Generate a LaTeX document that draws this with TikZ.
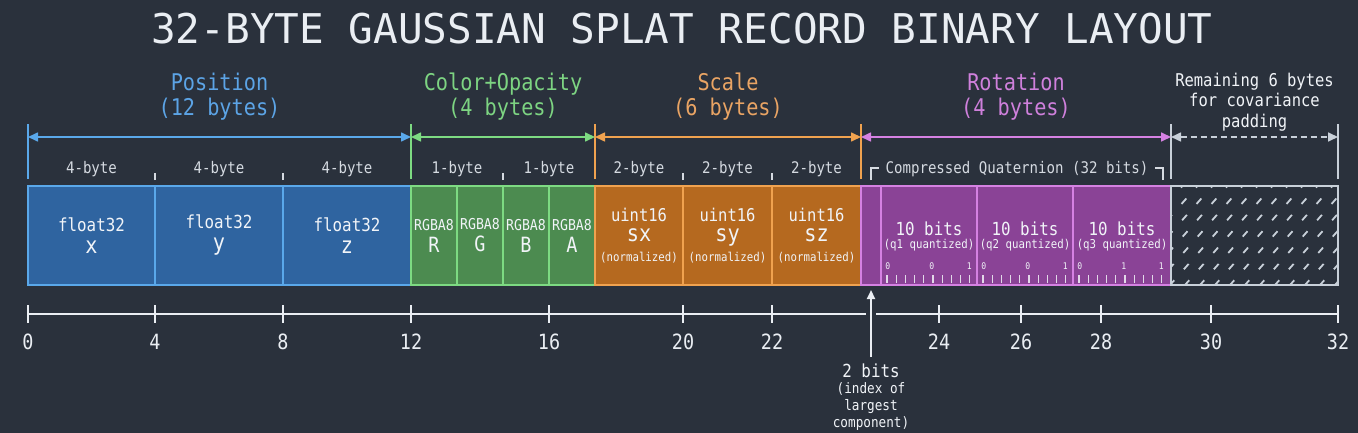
\documentclass[tikz,border=0pt]{standalone}
\usepackage{fontspec}
\usepackage{xcolor}
\usepackage{tikz}
\usetikzlibrary{positioning,arrows.meta,calc}

\newfontfamily\recmono[FakeStretch=0.88]{DejaVu Sans Mono}
\newfontfamily\titlemono{DejaVu Sans Mono}
\newcommand{\fsz}[2]{\fontsize{#1}{#2}\selectfont}

\definecolor{bgcol}{HTML}{2A313C}
\definecolor{titlecol}{HTML}{EAEEF3}
\definecolor{hdrtxt}{HTML}{D5DAE1}
\definecolor{boxtxt}{HTML}{F1F4F8}
\definecolor{poscol}{HTML}{5AA8EA}
\definecolor{posfill}{HTML}{2F64A0}
\definecolor{poslbl}{HTML}{5CA4E6}
\definecolor{colcol}{HTML}{7DDA82}
\definecolor{colfill}{HTML}{4C8B50}
\definecolor{collbl}{HTML}{7DD482}
\definecolor{sclcol}{HTML}{F0A24F}
\definecolor{sclfill}{HTML}{B5691F}
\definecolor{scllbl}{HTML}{E9A464}
\definecolor{rotcol}{HTML}{D581E2}
\definecolor{rotfill}{HTML}{8A4396}
\definecolor{rotlbl}{HTML}{CF80DC}
\definecolor{padcol}{HTML}{C8D0D9}

\begin{document}
\begin{tikzpicture}[x=0.5pt, y=-0.5pt, font=\recmono,
	field/.style={draw, line width=1pt, minimum height=49.5pt, inner sep=0pt, outer sep=0pt, align=center, text=boxtxt},
	posbox/.style={field, fill=posfill, draw=poscol, font=\recmono\fsz{9}{11}},
	colbox/.style={field, fill=colfill, draw=colcol, minimum width=23pt, font=\recmono\fsz{7.5}{11}},
	sclbox/.style={field, fill=sclfill, draw=sclcol, font=\recmono\fsz{8.8}{10}},
	rotbox/.style={field, fill=rotfill, draw=rotcol},
	segbar/.style={draw=#1, line width=0.8pt},
	segspan/.style={draw=#1, line width=0.8pt, {Triangle[length=5pt,width=4.5pt]}-{Triangle[length=5pt,width=4.5pt]}},
	sect/.style={text=#1, font=\recmono\fsz{11.5}{12.5}, align=center, inner sep=0pt},
	bytetxt/.style={text=hdrtxt, font=\recmono\fsz{8}{9}, inner sep=0pt},
	divtick/.style={draw=hdrtxt, line width=0.8pt},
	axisline/.style={draw=titlecol, line width=1pt},
	axisnum/.style={text=titlecol, font=\recmono\fsz{10.5}{11}, inner sep=0pt},
	padhatch/.style={draw=padcol, line width=0.9pt, dash pattern=on 3.6pt off 7.3pt},
	rulertick/.style={draw=boxtxt!85!rotfill, line width=0.6pt}]

	% background and frame of the picture
	\fill[bgcol] (0,0) rectangle (1358,433);
	\useasboundingbox (0,0) rectangle (1358,433);

	\node[font=\titlemono\fsz{20.5}{22}, text=titlecol] (title) at (682,29) {32-BYTE GAUSSIAN SPLAT RECORD BINARY LAYOUT};

	% the record, field by field
	\node[posbox, minimum width=63.5pt, anchor=north west] (fx) at (28,186) {float32\\{\fsz{11.5}{11}x}};
	\node[posbox, minimum width=64pt, right=0pt of fx] (fy) {float32\\{\fsz{11.5}{11}y}};
	\node[posbox, minimum width=64pt, right=0pt of fy] (fz) {float32\\{\fsz{11.5}{11}z}};
	\node[colbox, right=0pt of fz] (cr) {RGBA8\\{\fsz{10.5}{11}R}};
	\node[colbox, right=0pt of cr] (cg) {RGBA8\\{\fsz{10.5}{11}G}};
	\node[colbox, right=0pt of cg] (cb) {RGBA8\\{\fsz{10.5}{11}B}};
	\node[colbox, right=0pt of cb] (ca) {RGBA8\\{\fsz{10.5}{11}A}};
	\node[sclbox, minimum width=44pt, right=0pt of ca] (sx) {uint16\\{\fsz{11.5}{10}sx}\\{\fsz{6.1}{10}(normalized)}};
	\node[sclbox, minimum width=44.5pt, right=0pt of sx] (sy) {uint16\\{\fsz{11.5}{10}sy}\\{\fsz{6.1}{10}(normalized)}};
	\node[sclbox, minimum width=44.5pt, right=0pt of sy] (sz) {uint16\\{\fsz{11.5}{10}sz}\\{\fsz{6.1}{10}(normalized)}};
	\node[rotbox, minimum width=10pt, right=0pt of sz] (idx) {};
	\node[rotbox, minimum width=48pt, right=0pt of idx] (q1) {};
	\node[rotbox, minimum width=48pt, right=0pt of q1] (q2) {};
	\node[rotbox, minimum width=49pt, right=0pt of q2] (q3) {};
	\node[field, draw=none, minimum width=83.5pt, right=0pt of q3] (pad) {};

	% quantized components with their little rulers
	\foreach \q/\a/\b/\c in {1/0/0/1, 2/0/0/1, 3/0/1/1} {
		\node[text=boxtxt, font=\recmono\fsz{9}{10}, inner sep=0pt] at ([yshift=3.3pt]q\q.center) {10 bits};
		\node[text=boxtxt, font=\recmono\fsz{6.1}{7}, inner sep=0pt] at ([yshift=-4.8pt]q\q.center) {(q\q\ quantized)};
		\node[text=boxtxt, font=\recmono\fsz{4.6}{5}, inner sep=0pt] at ([xshift=3.4pt, yshift=9.5pt]q\q.south west) {\a};
		\node[text=boxtxt, font=\recmono\fsz{4.6}{5}, inner sep=0pt] at ([xshift=25.4pt, yshift=9.5pt]q\q.south west) {\b};
		\node[text=boxtxt, font=\recmono\fsz{4.6}{5}, inner sep=0pt] at ([xshift=44.2pt, yshift=9.5pt]q\q.south west) {\c};
		\foreach \k in {0,...,9}
			\draw[rulertick] ([xshift=3pt+\k*4.6pt, yshift=1pt]q\q.south west) -- ++(0,-8);
	}

	% unused padding, hatched
	\begin{scope}
		\clip (pad.south west) rectangle (pad.north east);
		\foreach \k in {0,...,23}
			\draw[padhatch] (1020+\k*15,302) -- ++(150,-170);
	\end{scope}
	\draw[padcol, line width=1pt] (pad.south west) rectangle (pad.north east);

	% section bars and spans
	\draw[segbar=poscol] ([yshift=3.5pt]fx.north west) -- ++(0,-55);
	\draw[segbar=colcol] ([yshift=3.5pt]cr.north west) -- ++(0,-55);
	\draw[segbar=sclcol] ([yshift=3.5pt]sx.north west) -- ++(0,-55);
	\draw[segbar=sclcol] ([yshift=3.5pt]sz.north east) -- ++(0,-55);
	\draw[segbar=padcol] ([yshift=3.5pt]pad.north west) -- ++(0,-55);
	\draw[segbar=padcol] ([yshift=3.5pt]pad.north east) -- ++(0,-55);

	\draw[segspan=poscol] ([yshift=24.5pt]fx.north west) -- ([yshift=24.5pt]fz.north east)
		node[midway, above=7.8pt, sect=poslbl] {Position\\(12 bytes)};
	\draw[segspan=colcol] ([yshift=24.5pt]cr.north west) -- ([yshift=24.5pt]ca.north east)
		node[midway, above=7.8pt, sect=collbl] {Color+Opacity\\(4 bytes)};
	\draw[segspan=sclcol] ([yshift=24.5pt]sx.north west) -- ([yshift=24.5pt]sz.north east)
		node[midway, above=7.8pt, sect=scllbl] {Scale\\(6 bytes)};
	\draw[segspan=rotcol] ([yshift=24.5pt]idx.north west) -- ([yshift=24.5pt]q3.north east)
		node[midway, above=7.8pt, sect=rotlbl] {Rotation\\(4 bytes)};
	\draw[segspan=padcol, dash pattern=on 3pt off 2pt] ([yshift=24.5pt]pad.north west) -- ([yshift=24.5pt]pad.north east)
		node[midway, above=2.6pt, text=boxtxt, font=\recmono\fsz{8.8}{10.3}, align=center, inner sep=0pt] {Remaining 6 bytes\\for covariance\\padding};

	% byte widths
	\node[bytetxt] at ([yshift=8.6pt]fx.north) {4-byte};
	\node[bytetxt] at ([yshift=8.6pt]fy.north) {4-byte};
	\node[bytetxt] at ([yshift=8.6pt]fz.north) {4-byte};
	\node[bytetxt] at ([yshift=8.6pt]cr.north east) {1-byte};
	\node[bytetxt] at ([yshift=8.6pt]cb.north east) {1-byte};
	\node[bytetxt] at ([yshift=8.6pt]sx.north) {2-byte};
	\node[bytetxt] at ([yshift=8.6pt]sy.north) {2-byte};
	\node[bytetxt] at ([yshift=8.6pt]sz.north) {2-byte};
	\foreach \n in {fx,fy,cg,sx,sy}
		\draw[divtick] ([yshift=3pt]\n.north east) -- ++(0,-7);

	\node[bytetxt] (cq) at ([yshift=8.6pt]$(idx.north)!0.5!([xshift=-4pt]q3.north east)$) {Compressed Quaternion (32 bits)};
	\draw[divtick] ([yshift=3pt]idx.north) -- ++(0,-12) -- ++(8,0);
	\draw[divtick] ([xshift=-4pt, yshift=3pt]q3.north east) -- ++(0,-12) -- ++(-8,0);

	% byte offset axis
	\coordinate (ax0) at (28,314);
	\coordinate (ax32) at (1338,314);
	\draw[axisline] (ax0) -- (ax32);
	\foreach \v/\x in {0/28, 4/155, 8/283, 12/411, 16/549, 20/683, 22/772, 24/939, 26/1021, 28/1101, 30/1211, 32/1338}
		\draw[axisline] (\x,305) -- (\x,323) node[pos=1, below=5pt, axisnum] {\v};

	% the two index bits
	\coordinate (idxtail) at (871,357);
	\draw[draw=titlecol, line width=1pt, -{Triangle[length=4.5pt,width=4pt]},
		preaction={draw=bgcol, line width=5pt, arrows=-}] (idxtail) -- ([yshift=-2.5pt]idx.south);
	\node[below=3pt of idxtail, text=boxtxt, font=\recmono\fsz{7.2}{8.4}, align=center, inner sep=0pt] (idxnote)
		{{\fsz{9}{8.4}2 bits}\\(index of\\largest\\component)};
\end{tikzpicture}
\end{document}
